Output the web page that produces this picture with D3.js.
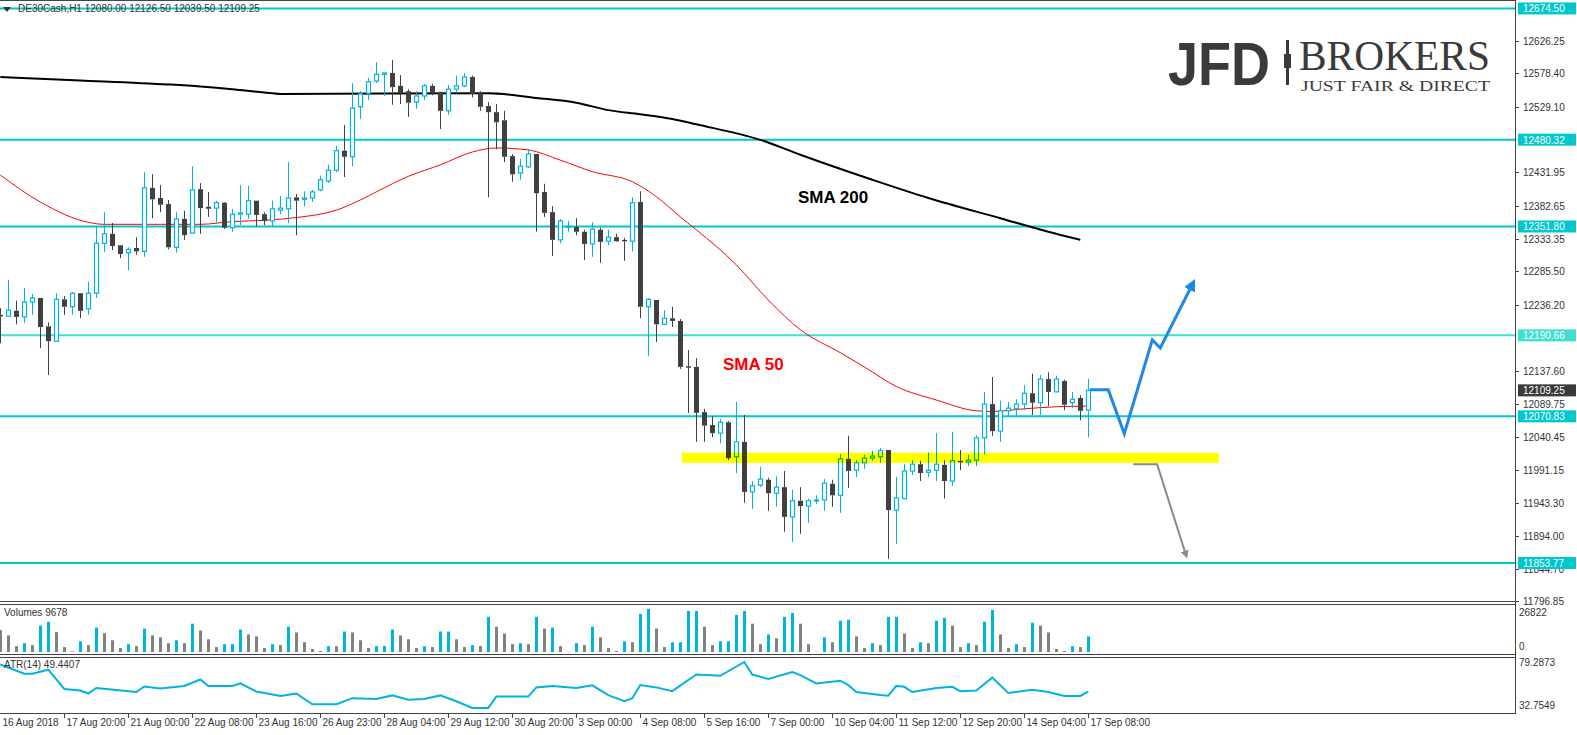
<!DOCTYPE html>
<html>
<head>
<meta charset="utf-8">
<script src="https://d3js.org/d3.v7.min.js"></script>
<style>
  body { margin: 0; background: #fff; }
  text { font-family: 'Liberation Sans', Tahoma, sans-serif; }
</style>
</head>
<body>
<script>
// DE30Cash H1 candles, 16 Aug - 17 Sep 2018
var opens = [12221,12219,12227,12218,12240,12246,12204,12182,12244,12233,
  12253,12230,12253,12327,12341,12324,12313,12320,12315,12409,
  12394,12385,12321,12363,12342,12407,12381,12379,12387,12350,
  12370,12370,12390,12370,12360,12376,12378,12395,12392,12394,
  12406,12419,12435,12464,12455,12529,12549,12567,12577,12579,
  12560,12552,12536,12545,12560,12551,12523,12555,12560,12573,
  12549,12530,12521,12509,12456,12431,12440,12459,12403,12373,
  12332,12351,12351,12344,12326,12347,12330,12336,12332,12330,
  12388,12233,12243,12207,12216,12212,12145,12144,12077,12058,
  12046,12062,12011,12033,11959,11969,11977,11957,11966,11922,
  11946,11938,11946,11947,11971,11954,12008,11991,12002,12009,
  12011,12021,11932,11949,11990,12000,11988,11991,11999,11975,
  12005,12003,12006,12039,12089,12049,12079,12082,12089,12105,
  12091,12126,12107,12123,12091,12098,12080];
var highs = [12231,12273,12242,12261,12252,12246,12210,12253,12249,12255,
  12253,12270,12351,12373,12357,12324,12321,12336,12432,12429,
  12413,12391,12373,12375,12441,12416,12403,12390,12388,12378,
  12413,12412,12390,12373,12390,12397,12447,12400,12404,12406,
  12427,12443,12471,12502,12564,12552,12572,12595,12579,12598,
  12576,12555,12552,12563,12563,12551,12561,12575,12579,12575,
  12552,12536,12533,12523,12459,12452,12466,12459,12415,12382,
  12363,12360,12364,12347,12358,12350,12347,12341,12335,12395,
  12404,12246,12243,12228,12233,12215,12169,12157,12082,12071,
  12067,12064,12092,12073,11975,11996,11980,11982,11990,11962,
  11966,11949,11954,11978,11977,12015,12042,12006,12014,12020,
  12024,12021,11981,12000,12006,12005,12017,12046,12006,12048,
  12021,12014,12043,12107,12129,12094,12092,12096,12117,12134,
  12132,12136,12131,12125,12107,12102,12126.5];
var lows = [12179,12218,12207,12209,12221,12172,12132,12181,12221,12221,
  12216,12221,12246,12314,12317,12305,12287,12310,12307,12364,
  12373,12318,12313,12332,12342,12341,12366,12357,12348,12344,
  12354,12363,12352,12354,12352,12370,12357,12339,12382,12388,
  12404,12416,12432,12425,12441,12511,12539,12564,12545,12532,
  12533,12514,12526,12539,12546,12496,12517,12549,12558,12543,
  12523,12395,12466,12447,12418,12421,12438,12344,12366,12308,
  12327,12344,12339,12302,12307,12298,12324,12329,12301,12315,
  12216,12160,12181,12206,12203,12141,12076,12033,12033,12040,
  12031,12006,11987,11943,11934,11966,11931,11937,11900,11885,
  11897,11913,11941,11931,11937,11928,11965,11981,11993,12005,
  12002,11860,11882,11949,11984,11975,11981,11975,11949,11968,
  11991,11997,11997,12015,12042,12033,12070,12070,12080,12073,
  12073,12086,12107,12080,12083,12065,12039.5];
var closes = [12219,12228,12218,12240,12246,12203,12182,12244,12233,12253,
  12227,12253,12327,12341,12323,12311,12318,12315,12409,12392,
  12384,12321,12363,12339,12406,12379,12378,12387,12350,12370,
  12372,12390,12369,12360,12378,12379,12394,12390,12394,12403,
  12421,12435,12464,12455,12527,12548,12566,12577,12579,12558,
  12549,12535,12545,12560,12549,12523,12555,12560,12573,12548,
  12529,12521,12506,12455,12429,12441,12459,12401,12372,12332,
  12360,12352,12344,12326,12348,12329,12336,12330,12330,12387,
  12233,12244,12207,12216,12212,12144,12144,12076,12057,12046,
  12062,12009,12033,11959,11968,11978,11957,11966,11922,11946,
  11938,11946,11947,11972,11954,12008,11990,12002,12009,12012,
  12020,11932,11950,11990,12000,11987,11991,12000,11975,12005,
  12003,12006,12039,12089,12049,12079,12083,12089,12105,12091,
  12126,12107,12126,12088,12096,12079,12109.25];
var volumes = [13600,10350,3650,5480,4260,16440,18880,12380,3050,410,
  6700,4260,15230,11770,7310,2440,4870,3650,14620,10350,
  9140,5480,7310,5480,17660,13400,7920,3050,4870,4900,
  14010,10960,9740,2440,4870,4260,15830,12180,6090,1830,
  610,3650,3600,12790,12180,7310,2440,3650,3700,14010,
  10350,7920,2440,3650,3050,12790,12800,7920,3050,4260,
  3650,21920,15830,11570,4870,5480,4870,21920,14620,
  15230,3650,200,5480,4260,15830,9140,2440,610,6700,6090,
  23750,26822,14620,3050,6090,6100,25580,25600,15830,4260,
  6700,6710,23140,25580,17660,4870,10960,8530,21920,24360,
  17660,4870,200,9140,6090,19490,20100,9740,2440,5480,
  4260,21920,21930,11570,2440,6090,5480,19490,21320,16440,
  3050,5480,4260,18880,26190,10960,2440,4870,3050,18270,
  16440,12180,1830,610,3650,3050,9678];

// moving averages and ATR read at candle indexes
var sma200Idx = [0,10,21,25,29,33,35,61,67,72,76,80,84,87,95,100,109,116,125,131,135];
var sma200Val = [12573,12568,12562,12559,12555,12550,12548,12549,12542,12535,12524,12518,12511,12503,12480,12458,12421,12394,12364,12344,12332];
var sma50Idx = [0,5,11,13,25,29,33,37,42,45,47,51,55,59,62,66,70,74,79,82,85,87,92,96,100,105,108,112,117,122,124,128,132,136];
var sma50Val = [12428,12388,12358,12355,12355,12359,12361,12365,12376,12391,12403,12426,12443,12462,12468,12465,12450,12433,12418,12396,12366,12347,12295,12243,12199,12165,12144,12115,12095,12079,12078,12082,12085,12086];
var atrIdx = [0,3,4,6,8,10,11,12,17,18,20,23,25,26,29,30,32,35,37,39,42,44,47,49,51,53,55,57,59,61,62,66,67,69,72,74,76,78,79,80,82,84,87,90,93,94,96,99,100,102,105,106,107,110,111,112,113,114,117,119,120,122,124,126,129,131,133,135,136];
var atrVal = [76.8,67.5,67.5,71.5,52.0,50.5,47.4,53.0,48.9,54.5,52.6,55.1,61.6,55.1,55.1,57.6,49.5,44.9,47.4,36.5,36.5,42.7,41.8,45.5,41.1,41.8,45.5,39.6,32.8,32.8,44.3,44.3,53.6,55.1,53.0,55.7,45.8,39.6,42.7,56.0,53.6,49.8,66.6,65.3,79.3,66.6,62.2,69.1,66.0,57.6,60.4,56.0,48.9,45.8,45.2,55.1,54.2,48.9,53.0,54.2,49.8,50.5,63.5,48.0,51.1,48.9,44.9,44.9,49.44];

var levels = [12674.50, 12480.32, 12351.80, 12190.66, 12070.83, 11853.77];
var priceTicks = [12626.25,12578.40,12529.10,12431.95,12382.65,12333.35,12285.50,12236.20,12137.60,12089.75,12040.45,11991.15,11943.30,11894.00,11844.70,11796.85];
var dateLabels = ["16 Aug 2018","17 Aug 20:00","21 Aug 00:00","22 Aug 08:00","23 Aug 16:00","26 Aug 23:00","28 Aug 04:00","29 Aug 12:00","30 Aug 20:00","3 Sep 00:00","4 Sep 08:00","5 Sep 16:00","7 Sep 00:00","10 Sep 04:00","11 Sep 12:00","12 Sep 20:00","14 Sep 04:00","17 Sep 08:00"];
var zoneIdx = [85.2, 152.3], zonePrice = [12002, 12017];
var bluePathIdx = [136.2,138.5,140.5,144,145,149], bluePathVal = [12110,12110,12045,12184,12172,12266];
var grayPathIdx = [141.6,144.6,148.2], grayPathVal = [12000,12000,11866];

var W = 1577, H = 735, axisX = 1515;
var blue = "#00b4e0", dark = "#404040", cyan = "#00c8cc";

var svg = d3.select("body").append("svg").attr("width", W).attr("height", H);

var x = d3.scaleLinear().domain([0, 1]).range([0.3, 8.3]);
var y = d3.scaleLinear().domain([11799, 12687]).range([600, 0]);
var yv = d3.scaleLinear().domain([0, 26822]).range([652, 609]);
var ya = d3.scaleLinear().domain([32.7549, 79.2873]).range([708, 662]);

svg.append("clipPath").attr("id", "main").append("rect").attr("width", axisX).attr("height", 600);
var g = svg.append("g").attr("clip-path", "url(#main)");

// levels
levels.forEach(function(p, i) {
  g.append("line").attr("x1", 0).attr("x2", axisX).attr("y1", y(p)).attr("y2", y(p))
    .attr("stroke", i == 3 ? "#40e0d0" : cyan).attr("stroke-width", 2);
});

// moving averages
var line = d3.line().curve(d3.curveMonotoneX);
g.append("path").attr("d", line(sma200Idx.map(function(d, i) { return [x(d), y(sma200Val[i])]; })))
  .attr("fill", "none").attr("stroke", "#000").attr("stroke-width", 2);
g.append("path").attr("d", line(sma50Idx.map(function(d, i) { return [x(d), y(sma50Val[i])]; })))
  .attr("fill", "none").attr("stroke", "#ff0000").attr("stroke-width", 1);

// candles
closes.forEach(function(c, i) {
  var o = opens[i], up = c >= o;
  var cx = Math.round(x(i)) + 0.5;
  var top = y(Math.max(o, c)), bot = y(Math.min(o, c));
  g.append("line").attr("x1", cx).attr("x2", cx).attr("y1", y(highs[i])).attr("y2", top)
    .attr("stroke", up ? blue : dark);
  g.append("line").attr("x1", cx).attr("x2", cx).attr("y1", bot).attr("y2", y(lows[i]))
    .attr("stroke", up ? blue : dark);
  if (up) {
    g.append("rect").attr("x", cx - 2).attr("y", top).attr("width", 4).attr("height", Math.max(bot - top, 1))
      .attr("fill", "#fff").attr("stroke", blue).attr("stroke-width", 1.2);
  } else {
    g.append("rect").attr("x", cx - 2.5).attr("y", top).attr("width", 5).attr("height", Math.max(bot - top, 1.5))
      .attr("fill", dark);
  }
});

// support zone
g.append("rect").attr("x", x(zoneIdx[0])).attr("width", x(zoneIdx[1]) - x(zoneIdx[0]))
  .attr("y", y(zonePrice[1])).attr("height", y(zonePrice[0]) - y(zonePrice[1]))
  .attr("fill", "#ffff00").style("mix-blend-mode", "multiply");

// scenario arrows
var defs = svg.append("defs");
[["ab", "#1e88e5"], ["ag", "#8a8a8a"]].forEach(function(m) {
  defs.append("marker").attr("id", m[0]).attr("viewBox", "0 0 10 10").attr("refX", 5).attr("refY", 5)
    .attr("markerWidth", 4).attr("markerHeight", 4).attr("orient", "auto")
    .append("path").attr("d", "M0,0 L10,5 L0,10 z").attr("fill", m[1]);
});
svg.append("path").attr("d", d3.line()(bluePathIdx.map(function(d, i) { return [x(d), y(bluePathVal[i])]; })))
  .attr("fill", "none").attr("stroke", "#1e88e5").attr("stroke-width", 3).attr("marker-end", "url(#ab)");
svg.append("path").attr("d", d3.line()(grayPathIdx.map(function(d, i) { return [x(d), y(grayPathVal[i])]; })))
  .attr("fill", "none").attr("stroke", "#8a8a8a").attr("stroke-width", 2).attr("marker-end", "url(#ag)");

// labels
svg.append("text").attr("x", 798).attr("y", 203).text("SMA 200")
  .style("font-family", "'Liberation Sans', Arial").style("font-weight", "bold").style("font-size", "17px");
svg.append("text").attr("x", 723).attr("y", 370).text("SMA 50").attr("fill", "#ff0000")
  .style("font-family", "'Liberation Sans', Arial").style("font-weight", "bold").style("font-size", "17px");

// logo
var logo = svg.append("g").attr("fill", "#3a3a3a");
logo.append("text").attr("x", 1168).attr("y", 85).text("JFD").attr("textLength", 102).attr("lengthAdjust", "spacingAndGlyphs")
  .style("font-family", "'Liberation Sans', Arial").style("font-weight", "bold").style("font-size", "62px");
logo.append("rect").attr("x", 1286).attr("y", 40).attr("width", 3).attr("height", 45);
logo.append("rect").attr("x", 1284).attr("y", 54).attr("width", 7).attr("height", 14);
logo.append("text").attr("x", 1299).attr("y", 70).text("BROKERS").attr("textLength", 191).attr("lengthAdjust", "spacingAndGlyphs")
  .style("font-family", "'Liberation Serif', serif").style("font-size", "42px");
logo.append("text").attr("x", 1301).attr("y", 91).text("JUST FAIR & DIRECT").attr("textLength", 189).attr("lengthAdjust", "spacingAndGlyphs")
  .style("font-family", "'Liberation Serif', serif").style("font-size", "15px");

// volumes
volumes.forEach(function(v, i) {
  var cx = Math.round(x(i));
  svg.append("rect").attr("x", cx - 1).attr("width", 3).attr("y", yv(v)).attr("height", yv(0) - yv(v))
    .attr("fill", i > 0 && v > volumes[i - 1] ? blue : "#808080");
});

// ATR
svg.append("path").attr("d", d3.line()(atrIdx.map(function(d, i) { return [x(d), ya(atrVal[i])]; })))
  .attr("fill", "none").attr("stroke", blue).attr("stroke-width", 2);

// frames
var frame = svg.append("g").attr("stroke", "#444").attr("shape-rendering", "crispEdges");
[0.5, 601.5, 604.5, 654.5, 657.5, 713.5].forEach(function(v) {
  frame.append("line").attr("x1", 0).attr("x2", axisX).attr("y1", v).attr("y2", v);
});
frame.append("line").attr("x1", axisX + 0.5).attr("x2", axisX + 0.5).attr("y1", 0).attr("y2", 714);

var fs = "10px";
svg.append("text").attr("x", 18).attr("y", 12).text("DE30Cash,H1  12080.00 12126.50 12039.50 12109.25")
  .attr("fill", "#333").style("font-size", fs);
svg.append("path").attr("d", "M3,7 L11,7 L7,12 z").attr("fill", "#333");
svg.append("text").attr("x", 4).attr("y", 616).text("Volumes 9678").attr("fill", "#333").style("font-size", fs);
svg.append("text").attr("x", 4).attr("y", 668).text("ATR(14) 49.4407").attr("fill", "#333").style("font-size", fs);

// price axis
priceTicks.forEach(function(p) {
  svg.append("line").attr("x1", axisX).attr("x2", axisX + 4).attr("y1", Math.round(y(p)) + 0.5).attr("y2", Math.round(y(p)) + 0.5).attr("stroke", "#444");
  svg.append("text").attr("x", axisX + 8).attr("y", y(p) + 4).text(d3.format(".2f")(p)).attr("fill", "#333").style("font-size", fs);
});
function tag(p, col) {
  svg.append("rect").attr("x", axisX + 3).attr("y", y(p) - 6).attr("width", 58).attr("height", 12).attr("fill", col);
  svg.append("text").attr("x", axisX + 8).attr("y", y(p) + 4).text(d3.format(".2f")(p)).attr("fill", "#fff").style("font-size", fs);
}
levels.forEach(function(p, i) { tag(p, i == 3 ? "#40e0d0" : cyan); });
tag(closes[closes.length - 1], "#3a3a3a");

svg.append("text").attr("x", axisX + 4).attr("y", 616).text("26822").attr("fill", "#333").style("font-size", fs);
svg.append("text").attr("x", axisX + 4).attr("y", 650).text("0").attr("fill", "#333").style("font-size", fs);
svg.append("text").attr("x", axisX + 4).attr("y", 666).text("79.2873").attr("fill", "#333").style("font-size", fs);
svg.append("text").attr("x", axisX + 4).attr("y", 709).text("32.7549").attr("fill", "#333").style("font-size", fs);

// time axis
dateLabels.forEach(function(d, i) {
  var px = Math.round(x(i * 8)) + 0.5;
  if (i > 0) svg.append("line").attr("x1", px).attr("x2", px).attr("y1", 713).attr("y2", 718).attr("stroke", "#444");
  svg.append("text").attr("x", px + 2).attr("y", 726).text(d).attr("fill", "#333").style("font-size", fs);
});
</script>
</body>
</html>
